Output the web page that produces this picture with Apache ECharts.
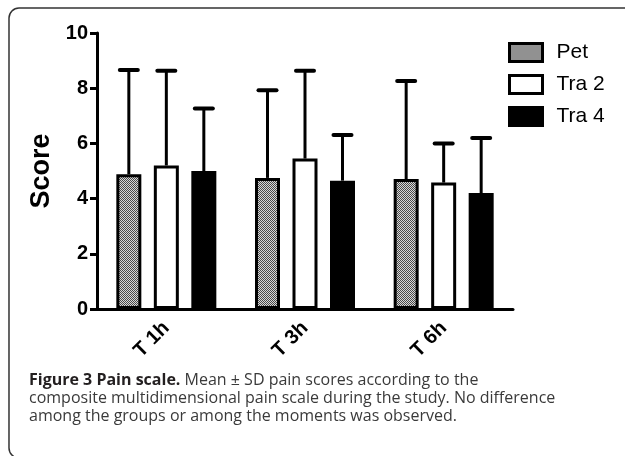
<!DOCTYPE html>
<html>
<head>
<meta charset="utf-8">
<script src="https://cdn.jsdelivr.net/npm/echarts@6/dist/echarts.min.js"></script>
<style>
html,body{margin:0;padding:0;background:#fff;}
#chart{width:625px;height:456px;}
</style>
</head>
<body>
<div id="chart"></div>
<script>
const categories = ['T 1h', 'T 3h', 'T 6h'];
const seriesNames = ['Pet', 'Tra 2', 'Tra 4'];
const petMean = [4.88, 4.75, 4.71];
const petSD   = [3.78, 3.18, 3.55];
const tra2Mean = [5.2, 5.45, 4.58];
const tra2SD   = [3.43, 3.18, 1.42];
const tra4Mean = [5.0, 4.65, 4.2];
const tra4SD   = [2.26, 1.65, 2.0];
const yTicks = [0, 2, 4, 6, 8, 10];

const means = [petMean, tra2Mean, tra4Mean];
const sds = [petSD, tra2SD, tra4SD];

// dithered gray pattern
const pc = document.createElement('canvas');
pc.width = 2; pc.height = 2;
const pctx = pc.getContext('2d');
pctx.fillStyle = '#d8d8d8'; pctx.fillRect(0,0,2,2);
pctx.fillStyle = '#4a4a4a'; pctx.fillRect(0,0,1,1); pctx.fillRect(1,1,1,1);

const fills = [{image: pc, repeat: 'repeat'}, '#ffffff', '#000000'];
const BAR_W = 25, BAR_GAP = 0.5;

const chart = echarts.init(document.getElementById('chart'));
const series = [];
seriesNames.forEach((name, i) => {
  series.push({
    name: name,
    type: 'bar',
    barWidth: BAR_W,
    barGap: (BAR_GAP*100) + '%',
    data: means[i],
    itemStyle: {color: fills[i], borderColor: '#000', borderWidth: 3},
    emphasis: {disabled: true},
    z: 2
  });
});
seriesNames.forEach((name, i) => {
  series.push({
    type: 'custom',
    name: name + ' SD',
    data: categories.map((c, k) => [k, means[i][k], means[i][k] + sds[i][k]]),
    renderItem: function (params, api) {
      const k = api.value(0);
      const base = api.coord([k, api.value(1)]);
      const top = api.coord([k, api.value(2)]);
      const off = (i - 1) * BAR_W * (1 + BAR_GAP);
      const x = base[0] + off;
      return {
        type: 'group',
        children: [
          {type: 'line', shape: {x1: x, y1: base[1], x2: x, y2: top[1]}, style: {stroke: '#000', lineWidth: 3}},
          {type: 'line', shape: {x1: x - 9, y1: top[1], x2: x + 9, y2: top[1]}, style: {stroke: '#000', lineWidth: 4, lineCap: 'round'}}
        ]
      };
    },
    z: 1,
    silent: true
  });
});

const capY = 372;
chart.setOption({
  animation: false,
  backgroundColor: '#fff',
  grid: {left: 97, right: 112, top: 33, bottom: 147},
  legend: {
    data: seriesNames,
    orient: 'vertical',
    left: 503,
    top: 37,
    itemWidth: 33,
    itemHeight: 18,
    itemGap: 11,
    icon: 'rect',
    itemStyle: {borderColor: '#000', borderWidth: 3},
    textStyle: {fontFamily: 'Liberation Sans', fontSize: 21, color: '#000', padding: [0,0,0,9]},
    selectedMode: false
  },
  xAxis: {
    type: 'category',
    data: categories,
    axisLine: {lineStyle: {color: '#000', width: 3}},
    axisTick: {alignWithLabel: true, length: 7, lineStyle: {color: '#000', width: 3}},
    axisLabel: {rotate: 45, margin: 16, color: '#000', fontFamily: 'Liberation Sans', fontWeight: 'bold', fontSize: 20}
  },
  yAxis: {
    type: 'value',
    min: yTicks[0],
    max: yTicks[yTicks.length - 1],
    interval: 2,
    name: 'Score',
    nameLocation: 'middle',
    nameGap: 35,
    nameTextStyle: {fontFamily: 'Liberation Sans', fontWeight: 'bold', fontSize: 27, color: '#000'},
    axisLine: {show: true, lineStyle: {color: '#000', width: 3}},
    axisTick: {show: true, length: 7, lineStyle: {color: '#000', width: 3}},
    axisLabel: {margin: 9, color: '#000', fontFamily: 'Liberation Sans', fontWeight: 'bold', fontSize: 20},
    splitLine: {show: false}
  },
  graphic: [
    {type: 'rect', shape: {x: 9, y: 8, width: 660, height: 450, r: 10}, style: {fill: 'none', stroke: '#333', lineWidth: 1.5}, z: -1},
    {type: 'text', left: 29, top: capY, style: {
      text: '{b|Figure 3 Pain scale.} Mean ± SD pain scores according to the',
      rich: {b: {fontWeight: 'bold', fill: '#231f20', fontFamily: 'Open Sans', fontSize: 16}},
      fontFamily: 'Open Sans', fontSize: 16, fill: '#3a3a3a'
    }},
    {type: 'text', left: 29, top: capY + 18, style: {
      text: 'composite multidimensional pain scale during the study. No difference',
      fontFamily: 'Open Sans', fontSize: 16, fill: '#3a3a3a'
    }},
    {type: 'text', left: 29, top: capY + 36, style: {
      text: 'among the groups or among the moments was observed.',
      fontFamily: 'Open Sans', fontSize: 16, fill: '#3a3a3a'
    }}
  ],
  series: series
});
</script>
</body>
</html>
